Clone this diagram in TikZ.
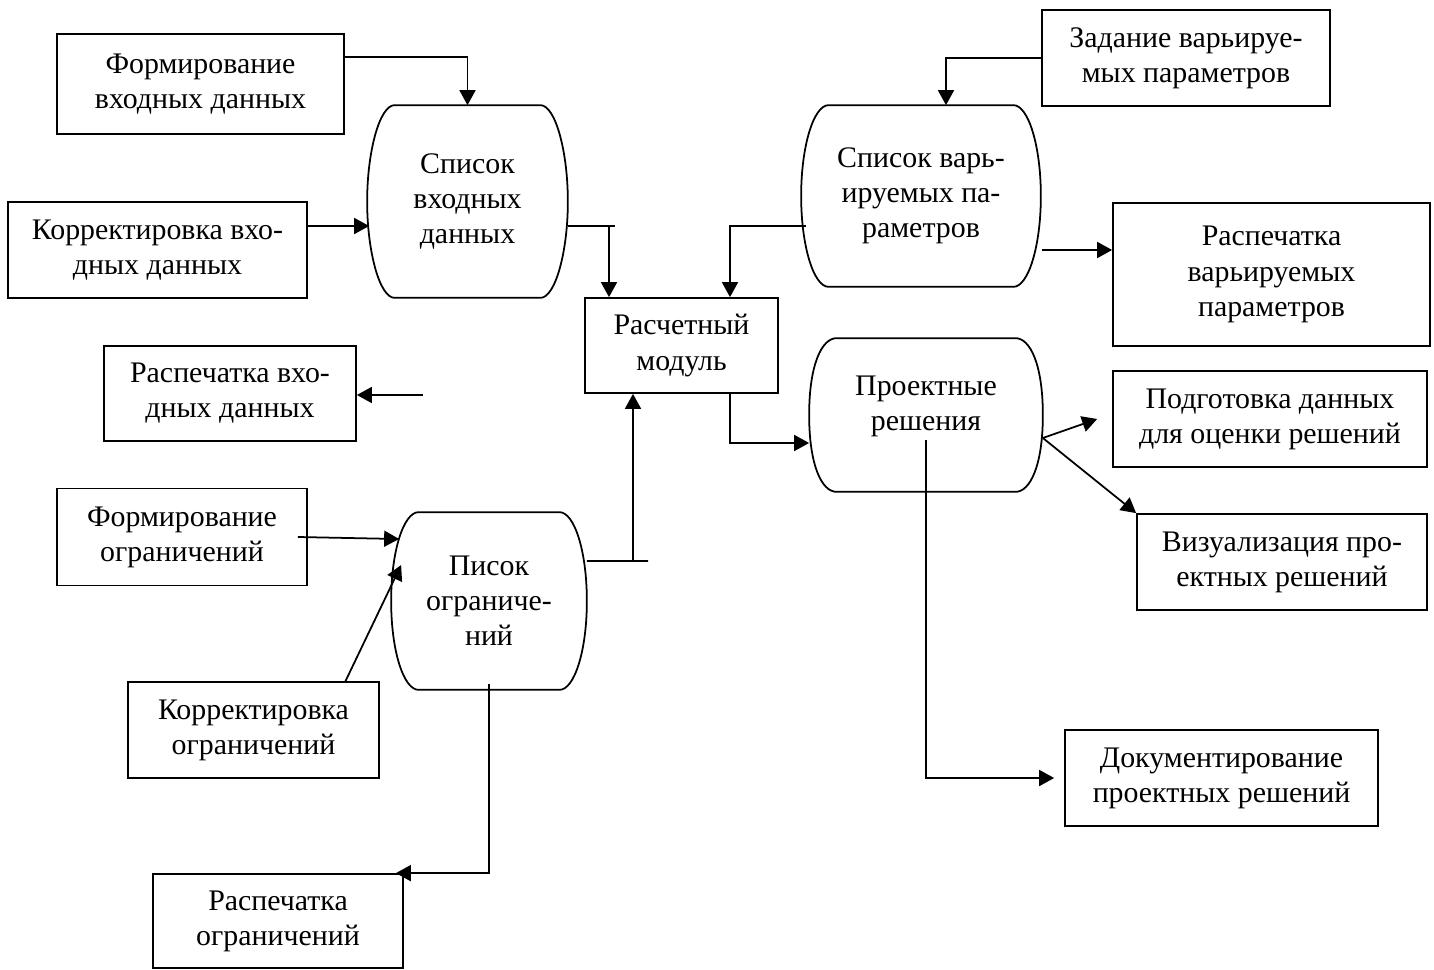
\documentclass[tikz,border=0pt]{standalone}
\usepackage{fontspec}
\setmainfont{Liberation Serif}
\usetikzlibrary{arrows.meta}
\tikzstyle{arrow} = [-{Triangle[length=3mm, width=3.2mm]}]
\tikzstyle{blok} = [draw, rectangle, inner sep=0pt, align=center, font=\fontsize{17}{20}\selectfont]
\tikzstyle{store} = [rectangle, inner sep=0pt, align=center, font=\fontsize{17}{20}\selectfont]
% outline of a data list (flat top and bottom, bulging sides)
\newcommand{\drawbarrel}[1]{%
  \draw ([xshift=0.55cm]#1.north west) -- ([xshift=-0.55cm]#1.north east)
    .. controls +(0.3cm,0) and +(0,1cm) .. (#1.east)
    .. controls +(0,-1cm) and +(0.3cm,0) .. ([xshift=-0.55cm]#1.south east)
    -- ([xshift=0.55cm]#1.south west)
    .. controls +(-0.3cm,0) and +(0,-1cm) .. (#1.west)
    .. controls +(0,1cm) and +(-0.3cm,0) .. ([xshift=0.55cm]#1.north west) -- cycle;}

\begin{document}
\begin{tikzpicture}[x=0.02cm, y=-0.02cm, line width=1pt]
    \useasboundingbox (0,0) rectangle (1434,970);
    % left column
    \node[blok, minimum width=5.74cm, minimum height=2cm] (formvh) at (200.5,84) {Формирование\\входных данных};
    \node[blok, minimum width=5.98cm, minimum height=1.92cm] (korvh) at (157.5,250) {Корректировка вхо-\\дных данных};
    \node[blok, minimum width=5.04cm, minimum height=1.9cm] (raspvh) at (230,393.5) {Распечатка вхо-\\дных данных};
    \node[blok, minimum width=5cm, minimum height=1.94cm] (formogr) at (182,537) {Формирование\\ограничений};
    \node[blok, minimum width=5.02cm, minimum height=1.92cm] (korogr) at (253.5,730) {Корректировка\\ограничений};
    \node[blok, minimum width=5cm, minimum height=1.88cm] (raspogr) at (278,921) {Распечатка\\ограничений};
    % lists
    \node[store, minimum width=3.98cm, minimum height=3.82cm] (spvh) at (467.5,201.5) {Список\\входных\\данных};
    \node[store, minimum width=3.88cm, minimum height=3.52cm] (spogr) at (489,601) {Писок\\ограниче-\\ний};
    \node[store, minimum width=4.76cm, minimum height=3.6cm] (spvar) at (921,196) {Список варь-\\ируемых па-\\раметров};
    \node[store, minimum width=4.64cm, minimum height=3.04cm, text depth=0.48cm] (proekt) at (926,415) {Проектные\\решения};
    \drawbarrel{spvh}
    \drawbarrel{spogr}
    \drawbarrel{spvar}
    \drawbarrel{proekt}
    % centre and right column
    \node[blok, minimum width=3.86cm, minimum height=1.9cm] (raschet) at (681.5,345.5) {Расчетный\\модуль};
    \node[blok, minimum width=5.76cm, minimum height=1.92cm] (zadanie) at (1186,58) {Задание варьируе-\\мых параметров};
    \node[blok, minimum width=6.34cm, minimum height=2.86cm] (raspvar) at (1271.5,274.5) {Распечатка\\варьируемых\\параметров};
    \node[blok, minimum width=6.28cm, minimum height=1.92cm] (podgot) at (1270,419) {Подготовка данных\\для оценки решений};
    \node[blok, minimum width=5.8cm, minimum height=1.92cm] (vizual) at (1282,562) {Визуализация про-\\ектных решений};
    \node[blok, minimum width=6.26cm, minimum height=1.92cm] (dokum) at (1221.5,778) {Документирование\\проектных решений};

    \coordinate (k1) at (307,226);
    \coordinate (c1) at (609,226);
    \coordinate (c2) at (730,226);
    \coordinate (c3) at (1042,250);
    \coordinate (c5) at (633,561);
    \coordinate (c6) at (423,395);

    \draw[arrow] ([yshift=0.54cm]formvh.east) -| (spvh.north);
    \draw[arrow] (k1) -- ([xshift=0.04cm]k1 -| spvh.west);
    \draw (spvh.east |- c1) -- ([xshift=0.12cm]c1);
    \draw[arrow] (c1) -- (c1 |- raschet.north);
    \draw[arrow] ([xshift=0.1cm]spvar.west |- c2) -- (c2) -- (c2 |- raschet.north);
    \draw[arrow] (zadanie.west) -| ([xshift=0.5cm]spvar.north);
    \draw[arrow] (c3) -- (c3 -| raspvar.west);
    \draw[arrow] (raschet.south -| c2) |- ([yshift=-0.56cm]proekt.west);
    \draw[arrow] ([yshift=-0.46cm]proekt.east) -- ([xshift=-0.3cm]podgot.west);
    \draw[arrow] ([yshift=-0.46cm]proekt.east) -- (vizual.north west);
    \draw[arrow] ([yshift=-0.5cm]proekt.center) |- ([xshift=-0.2cm]dokum.west);
    \draw[arrow] (c6) -- (c6 -| raspvh.east);
    \draw[arrow] ([xshift=-0.2cm]formogr.east) -- ([xshift=0.16cm, yshift=1.24cm]spogr.west);
    \draw[arrow] ([xshift=1.84cm]korogr.north) -- ([xshift=0.2cm, yshift=0.72cm]spogr.west);
    \draw ([yshift=0.8cm]spogr.east) -- ([xshift=0.3cm]c5);
    \draw[arrow] (c5) -- (c5 |- raschet.south);
    \draw[arrow] ([yshift=0.12cm]spogr.south) |- ([xshift=-0.16cm]raspogr.north east);
  \end{tikzpicture}
\end{document}
